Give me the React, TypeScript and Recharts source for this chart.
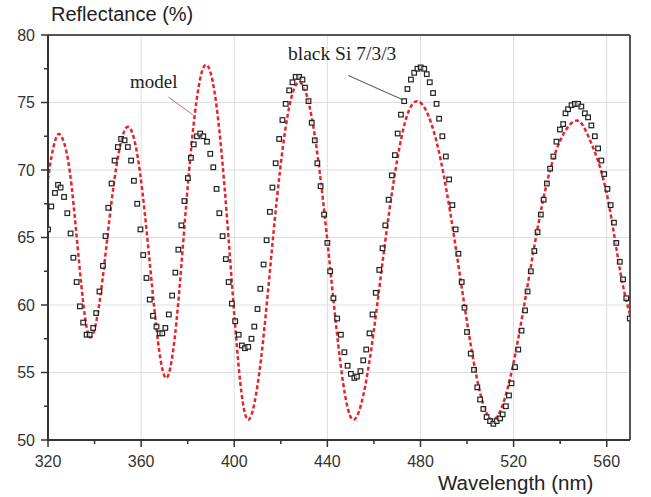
import { ComposedChart, Line, Scatter, XAxis, YAxis, ReferenceLine } from 'recharts';

// red dashed model curve
const modelX = [
  320, 321.5, 323.3, 325.3, 328.55, 331.8, 335.05, 338.3, 342.3, 346.35, 350.4, 354.4,
  358.5, 362.65, 366.8, 370.9, 375.2, 379.45, 383.7, 388, 392.5, 397, 401.5, 406,
  411.5, 416.95, 422.4, 427.9, 433.7, 439.55, 445.4, 451.2, 458, 464.85, 471.7, 478.5,
  486.6, 494.75, 502.9, 511, 519.7, 528.45, 537.2, 545.9, 551, 556, 561, 566, 570,
];
const modelY = [
  69.3, 71.0, 72.3, 72.6, 70.8, 66.0, 60.3, 57.6, 60.4, 66.3, 71.3, 73.2,
  71.0, 65.0, 57.95, 54.6, 58.8, 67.6, 75.0, 77.8, 74.6, 66.2, 56.2, 51.5,
  56.0, 65.5, 73.5, 76.5, 73.5, 65.5, 56.0, 51.5, 55.75, 64.7, 72.3, 75.1,
  72.3, 64.7, 55.75, 51.5, 55.5, 63.9, 70.9, 73.6, 72.9, 70.8, 67.4, 62.3, 59.3,
];

// measured black Si 7/3/3 (open squares)
const sampleX = [
  320.0, 321.4, 323.0, 324.3, 325.4, 326.9, 328.3, 329.7, 330.9, 332.3,
  333.7, 335.1, 336.6, 337.9, 339.4, 340.7, 342.1, 343.6, 344.7, 345.9,
  347.3, 348.6, 350.0, 351.4, 352.9, 354.3, 355.7, 356.9, 358.3, 359.7,
  360.9, 362.3, 363.7, 365.1, 366.6, 368.0, 369.1, 370.4, 371.9, 373.3,
  374.7, 376.0, 377.3, 378.6, 380.1, 381.4, 382.6, 384.0, 385.4, 386.7,
  388.3, 389.7, 391.0, 392.4, 393.6, 395.0, 396.4, 397.6, 399.0, 400.4,
  401.9, 403.3, 404.6, 406.0, 407.4, 408.6, 410.0, 411.2, 412.6, 413.9,
  415.3, 416.4, 417.8, 419.3, 420.7, 422.1, 423.6, 425.0, 426.4, 427.9,
  429.3, 430.4, 431.9, 433.3, 434.6, 435.7, 437.1, 438.6, 440.0, 441.2,
  442.6, 444.2, 445.8, 447.3, 448.7, 450.1, 451.6, 452.7, 454.2, 455.4,
  456.7, 458.1, 459.4, 460.8, 462.3, 463.7, 464.9, 466.3, 467.7, 469.0,
  470.2, 471.6, 473.0, 474.4, 475.9, 477.3, 478.7, 480.1, 481.6, 482.7,
  484.0, 485.4, 486.9, 488.0, 489.4, 490.9, 492.3, 493.7, 495.1, 496.3,
  497.7, 498.9, 500.0, 501.6, 503.0, 504.4, 505.6, 507.0, 508.4, 509.9,
  511.3, 512.7, 514.2, 515.3, 516.7, 518.0, 519.1, 520.6, 522.0, 523.4,
  524.9, 526.0, 527.4, 528.9, 530.3, 531.7, 532.9, 534.3, 535.7, 537.1,
  538.4, 539.9, 541.3, 542.3, 543.4, 544.9, 546.3, 547.7, 549.1, 550.6,
  552.0, 553.4, 554.9, 556.3, 557.7, 558.9, 560.3, 561.7, 563.1, 564.1,
  565.6, 567.0, 568.4, 569.9,
];
const sampleY = [
  65.6, 67.3, 68.3, 68.9, 68.7, 68.0, 66.8, 65.3, 63.5, 61.7,
  59.9, 58.7, 57.8, 57.8, 58.3, 59.4, 61.0, 62.9, 65.1, 67.2,
  69.0, 70.7, 71.7, 72.3, 72.2, 71.7, 70.7, 69.2, 67.5, 65.6,
  63.7, 62.0, 60.4, 59.2, 58.4, 57.9, 57.9, 58.3, 59.3, 60.7,
  62.4, 64.1, 65.9, 67.7, 69.4, 70.9, 71.9, 72.5, 72.7, 72.5,
  72.1, 71.2, 70.2, 68.6, 66.8, 65.1, 63.4, 61.7, 60.1, 58.8,
  57.8, 57.0, 56.8, 56.9, 57.5, 58.4, 59.7, 61.2, 63.0, 64.8,
  66.9, 68.7, 70.5, 72.3, 73.7, 74.9, 75.9, 76.5, 76.9, 76.9,
  76.7, 76.1, 75.1, 73.5, 72.2, 70.5, 68.8, 66.7, 64.6, 62.5,
  60.5, 59.0, 57.8, 56.5, 55.5, 54.9, 54.6, 54.7, 55.1, 55.9,
  56.7, 57.9, 59.3, 60.9, 62.6, 64.2, 65.9, 67.8, 69.6, 71.1,
  72.7, 74.1, 75.1, 76.0, 76.7, 77.2, 77.5, 77.6, 77.5, 77.1,
  76.5, 75.7, 74.9, 73.8, 72.5, 71.0, 69.3, 67.4, 65.6, 63.8,
  61.7, 59.8, 58.0, 56.4, 55.2, 53.9, 53.0, 52.3, 51.7, 51.4,
  51.2, 51.4, 51.6, 51.9, 52.5, 53.3, 54.2, 55.4, 56.7, 58.1,
  59.6, 61.0, 62.5, 64.0, 65.4, 66.7, 67.8, 69.0, 70.1, 71.0,
  72.1, 73.0, 73.4, 74.2, 74.5, 74.8, 74.9, 74.9, 74.7, 74.2,
  73.9, 73.3, 72.5, 71.6, 70.7, 69.7, 68.6, 67.4, 66.1, 64.6,
  63.2, 61.9, 60.5, 59.0,
];

const xTicks = [320, 340, 360, 380, 400, 420, 440, 460, 480, 500, 520, 540, 560];
const xMajor = [320, 360, 400, 440, 480, 520, 560];
const yTicks = [50, 52.5, 55, 57.5, 60, 62.5, 65, 67.5, 70, 72.5, 75, 77.5, 80];
const yMajor = [50, 55, 60, 65, 70, 75, 80];

const modelData = modelX.map((x, i) => ({ x, r: modelY[i] }));
const sampleData = sampleX.map((x, i) => ({ x, b: sampleY[i] }));

const AXIS = '#333';
const GRID = '#dedede';
const tickFont = { fontFamily: 'Liberation Sans, Arial, sans-serif', fontSize: 16, fill: '#333' };

function XTick(props: any) {
  const { x, y, payload } = props;
  const major = xMajor.includes(payload.value);
  return (
    <g>
      <line x1={x} x2={x} y1={y} y2={y + (major ? 7 : 4)} stroke={AXIS} strokeWidth={1.5} />
      {major && (
        <text x={x} y={y + 27} textAnchor="middle" {...tickFont}>
          {payload.value}
        </text>
      )}
    </g>
  );
}

function YTick(props: any) {
  const { x, y, payload } = props;
  const major = yMajor.includes(payload.value);
  return (
    <g>
      <line x1={x - (major ? 7 : 4)} x2={x} y1={y} y2={y} stroke={AXIS} strokeWidth={1.5} />
      {major && (
        <text x={x - 13} y={y} dy="0.36em" textAnchor="end" {...tickFont}>
          {payload.value}
        </text>
      )}
    </g>
  );
}

function Square(props: any) {
  const { cx, cy } = props;
  return <rect x={cx - 2.3} y={cy - 2.3} width={4.6} height={4.6} fill="#fff" fillOpacity={0.6} stroke="#222" strokeWidth={1.2} />;
}

export default function App() {
  return (
    <div style={{ position: 'absolute', left: 0, top: 0, width: 651, height: 497, background: '#fff' }}>
      <ComposedChart width={651} height={497} margin={{ top: 35, right: 21, bottom: 27, left: 8 }}>
        <XAxis
          type="number"
          dataKey="x"
          domain={[320, 570]}
          ticks={xTicks}
          allowDataOverflow
          height={30}
          tickSize={0}
          tickMargin={0}
          tickLine={false}
          tick={<XTick />}
          axisLine={{ stroke: AXIS, strokeWidth: 2 }}
        />
        <YAxis
          type="number"
          domain={[50, 80]}
          ticks={yTicks}
          allowDataOverflow
          width={40}
          tickSize={0}
          tickMargin={0}
          tickLine={false}
          tick={<YTick />}
          axisLine={{ stroke: AXIS, strokeWidth: 2 }}
        />
        {yMajor.slice(1, -1).map((v) => (
          <ReferenceLine key={'h' + v} y={v} stroke={GRID} strokeWidth={1} />
        ))}
        {xMajor.slice(1).map((v) => (
          <ReferenceLine key={'v' + v} x={v} stroke={GRID} strokeWidth={1} />
        ))}
        <ReferenceLine y={80} stroke="#555" strokeWidth={2} />
        <ReferenceLine x={570} stroke="#555" strokeWidth={2} />
        <ReferenceLine
          segment={[{ x: 371.7, y: 75.4 }, { x: 382.2, y: 74.1 }]}
          stroke="#b5737d"
          strokeWidth={1}
        />
        <ReferenceLine
          segment={[{ x: 449.0, y: 77.0 }, { x: 472.4, y: 75.2 }]}
          stroke="#666"
          strokeWidth={1.2}
        />
        <Line
          data={modelData}
          dataKey="r"
          type="natural"
          stroke="#e3262d"
          strokeWidth={2.5}
          strokeDasharray="4 2.5"
          dot={false}
          activeDot={false}
          isAnimationActive={false}
        />
        <Scatter data={sampleData} dataKey="b" shape={<Square />} isAnimationActive={false} />
      </ComposedChart>
      <svg width={651} height={497} style={{ position: 'absolute', left: 0, top: 0, pointerEvents: 'none' }}>
        <text x={51} y={21} fontFamily="Liberation Sans, Arial, sans-serif" fontSize={20} fill="#222">
          Reflectance (%)
        </text>
        <text x={438} y={490} fontFamily="Liberation Sans, Arial, sans-serif" fontSize={20.5} fill="#222">
          Wavelength (nm)
        </text>
        <text x={130} y={88} fontFamily="Liberation Serif, Times New Roman, serif" fontSize={19} fill="#222">
          model
        </text>
        <text x={288} y={60} fontFamily="Liberation Serif, Times New Roman, serif" fontSize={19.5} fill="#222">
          black Si 7/3/3
        </text>
      </svg>
    </div>
  );
}
